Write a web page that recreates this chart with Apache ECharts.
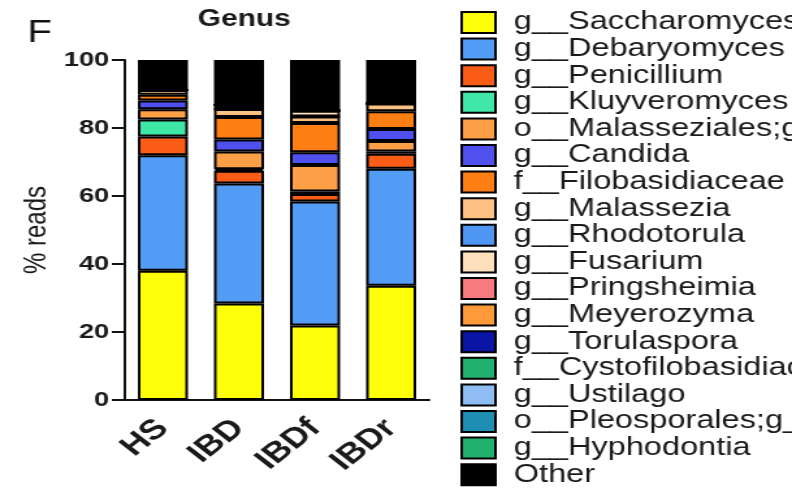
<!DOCTYPE html>
<html>
<head>
<meta charset="utf-8">
<script src="https://cdn.jsdelivr.net/npm/echarts@6/dist/echarts.min.js"></script>
<style>
  html, body { margin: 0; padding: 0; background: #fff; overflow: hidden; }
  /* the figure is drawn narrow and widened, so its lettering comes out broad */
  #chart { width: 609px; height: 488px; transform: scaleX(1.3005); transform-origin: 0 0; }
</style>
</head>
<body>
<div id="chart"></div>
<script>
// Groups on the x axis
const groups = ['HS', 'IBD', 'IBDf', 'IBDr'];

// Relative abundance (% reads) per taxon, one value per group
const saccharomyces   = [38.0, 28.4, 21.9, 33.6];
const debaryomyces    = [34.0, 35.3, 36.5, 34.4];
const penicillium     = [5.5, 3.7, 2.2, 4.4];
const kluyveromyces   = [5.0, 0.5, 0.7, 0.7];
const malasseziales   = [3.0, 5.2, 7.8, 3.1];
const candida         = [2.6, 3.5, 3.8, 3.5];
const filobasidiaceae = [1.7, 6.6, 8.6, 5.2];
const malassezia      = [1.4, 2.4, 1.9, 2.3];
const rhodotorula     = [0, 0, 0, 0];
const fusarium        = [0, 1.2, 1.7, 0];
const pringsheimia    = [0, 0, 0, 0];
const meyerozyma      = [0, 0, 0, 0];
const torulaspora     = [0, 0, 0, 0];
const cystofilobasid  = [0, 0, 0, 0];
const ustilago        = [0, 0, 0, 0];
const pleosporales    = [0, 0, 0, 0];
const hyphodontia     = [0, 0, 0, 0];
const other           = [8.8, 13.2, 14.9, 12.8];

// Taxon names, in stacking order (bottom to top)
const taxonNames = [
  'g__Saccharomyces', 'g__Debaryomyces', 'g__Penicillium', 'g__Kluyveromyces',
  'o__Malasseziales;g__', 'g__Candida', 'f__Filobasidiaceae', 'g__Malassezia',
  'g__Rhodotorula', 'g__Fusarium', 'g__Pringsheimia', 'g__Meyerozyma',
  'g__Torulaspora', 'f__Cystofilobasidiaceae', 'g__Ustilago', 'o__Pleosporales;g__',
  'g__Hyphodontia', 'Other'
];
const taxonValues = [
  saccharomyces, debaryomyces, penicillium, kluyveromyces,
  malasseziales, candida, filobasidiaceae, malassezia,
  rhodotorula, fusarium, pringsheimia, meyerozyma,
  torulaspora, cystofilobasid, ustilago, pleosporales,
  hyphodontia, other
];
const taxonColors = [
  '#ffff0a', '#529cf5', '#fc5d16', '#40e8a8',
  '#fc9f47', '#5050ef', '#fd7f14', '#fdc183',
  '#4e96f2', '#ffe0bd', '#f77a7f', '#fe9a3a',
  '#0a14a5', '#22b070', '#8ebcf3', '#1e8fb2',
  '#22b06e', '#000000'
];

const FONT = '"Liberation Sans", Arial, sans-serif';

const chart = echarts.init(document.getElementById('chart'));

chart.setOption({
  animation: false,
  backgroundColor: '#ffffff',
  title: {
    text: 'Genus',
    left: 152,
    top: 8,
    padding: 0,
    textStyle: { fontFamily: FONT, fontSize: 23, fontWeight: 'bold', color: '#1a1a1a' }
  },
  graphic: [{
    type: 'text',
    left: 21,
    top: 18,
    style: { text: 'F', font: '31px ' + FONT, fill: '#111' }
  }],
  legend: {
    orient: 'vertical',
    left: 354,
    top: 10,
    padding: 0,
    icon: 'rect',
    itemWidth: 26,
    itemHeight: 21,
    itemGap: 1.6,
    selectedMode: false,
    itemStyle: { borderColor: '#000', borderWidth: 2 },
    textStyle: {
      fontFamily: FONT, fontSize: 25, color: '#1a1a1a',
      padding: [0, 0, 0, 9]
    },
    data: taxonNames
  },
  grid: { left: 96, top: 60, width: 234, height: 340 },
  xAxis: {
    type: 'category',
    data: groups,
    axisLine: { lineStyle: { color: '#111', width: 2 } },
    axisTick: { alignWithLabel: true, length: 5, lineStyle: { color: '#111', width: 2 } },
    axisLabel: {
      rotate: 45, margin: 24, interval: 0,
      fontFamily: FONT, fontSize: 28, fontWeight: 'bold', color: '#1a1a1a'
    }
  },
  yAxis: {
    type: 'value',
    min: 0, max: 100, interval: 20,
    name: '% reads',
    nameLocation: 'middle',
    nameGap: 56,
    nameRotate: 90,
    nameTextStyle: { fontFamily: FONT, fontSize: 24, color: '#1a1a1a' },
    axisLine: { show: true, lineStyle: { color: '#111', width: 2 } },
    axisTick: { show: true, length: 10, lineStyle: { color: '#111', width: 2 } },
    splitLine: { show: false },
    axisLabel: {
      margin: 12,
      fontFamily: FONT, fontSize: 21, fontWeight: 'bold', color: '#1a1a1a'
    }
  },
  series: taxonNames.map((name, i) => ({
    name: name,
    type: 'bar',
    stack: 'reads',
    barWidth: 38.5,
    data: taxonValues[i],
    itemStyle: { color: taxonColors[i], borderColor: '#000', borderWidth: 2 },
    emphasis: { disabled: true }
  }))
});
</script>
</body>
</html>
